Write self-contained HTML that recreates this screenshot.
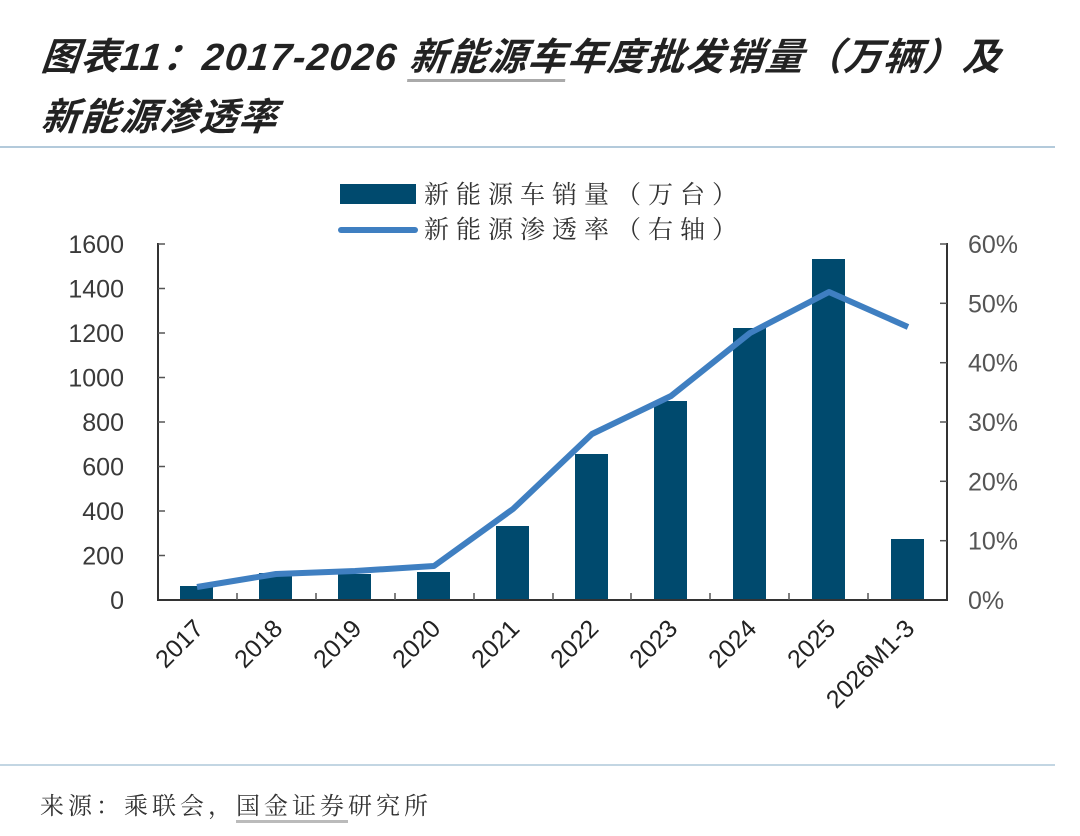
<!DOCTYPE html>
<html><head><meta charset="utf-8"><style>
body{margin:0;width:1080px;height:836px;background:#fff;overflow:hidden;position:relative;font-family:"Liberation Sans","Noto Sans CJK SC",sans-serif}
.t{position:absolute;left:42px;font-style:italic;font-weight:bold;font-size:38px;color:#222;letter-spacing:1.5px;font-family:"Liberation Sans","Noto Sans CJK SC",sans-serif;transform:skewX(-6deg);white-space:nowrap}
</style></head><body>
<div class="t" style="top:26px">图表11：2017-2026 <span style="border-bottom:3px solid #aaa">新能源车</span>年度批发销量（万辆）及</div>
<div class="t" style="top:86px">新能源渗透率</div>
<div style="position:absolute;left:0;top:146px;width:1055px;height:2px;background:#b3cadb"></div>
<div style="position:absolute;left:0;top:764px;width:1055px;height:2px;background:#c3d6e3"></div>
<div style="position:absolute;left:40px;top:786px;font-size:24px;letter-spacing:4px;color:#333;font-family:'Liberation Serif','Noto Serif CJK SC',serif;white-space:nowrap">来源：乘联会，<span style="border-bottom:3px solid #bbb">国金证券</span>研究所</div>
<svg width="1080" height="836" style="position:absolute;left:0;top:0">
<g font-family="Liberation Sans, Noto Sans CJK SC, sans-serif">
<rect x="340" y="184" width="76" height="20" fill="#004a6e"/>
<text x="424" y="203" font-size="25" fill="#333" font-family="Liberation Serif, Noto Serif CJK SC, serif" letter-spacing="7">新能源车销量（万台）</text>
<line x1="341" y1="230" x2="415" y2="230" stroke="#3f7fc1" stroke-width="6" stroke-linecap="round"/>
<text x="424" y="238" font-size="25" fill="#333" font-family="Liberation Serif, Noto Serif CJK SC, serif" letter-spacing="7">新能源渗透率（右轴）</text>
<g fill="#004a6e">
<rect x="180" y="586" width="33" height="14"/>
<rect x="259" y="573" width="33" height="27"/>
<rect x="338" y="574" width="33" height="26"/>
<rect x="417" y="572" width="33" height="28"/>
<rect x="496" y="526" width="33" height="74"/>
<rect x="575" y="454" width="33" height="146"/>
<rect x="654" y="401" width="33" height="199"/>
<rect x="733" y="328" width="33" height="272"/>
<rect x="812" y="259" width="33" height="341"/>
<rect x="891" y="539" width="33" height="61"/>
</g>
<polyline points="197,587 276,574 355,571 434,566 513,509 592,434 671,396 750,333 829,292 908,327" fill="none" stroke="#3f7fc1" stroke-width="6" stroke-linejoin="round"/>
<g stroke="#333" stroke-width="2" fill="none">
<line x1="158" y1="243" x2="158" y2="601"/>
<line x1="947" y1="243" x2="947" y2="601"/>
<line x1="157" y1="600" x2="948" y2="600"/>
</g>
<g stroke="#555" stroke-width="1.5">
<line x1="158" y1="244" x2="165" y2="244"/><line x1="158" y1="288.5" x2="165" y2="288.5"/><line x1="158" y1="333" x2="165" y2="333"/><line x1="158" y1="377.5" x2="165" y2="377.5"/><line x1="158" y1="422" x2="165" y2="422"/><line x1="158" y1="466.5" x2="165" y2="466.5"/><line x1="158" y1="511" x2="165" y2="511"/><line x1="158" y1="555.5" x2="165" y2="555.5"/>
<line x1="940" y1="244" x2="947" y2="244"/><line x1="940" y1="303.3" x2="947" y2="303.3"/><line x1="940" y1="362.7" x2="947" y2="362.7"/><line x1="940" y1="422" x2="947" y2="422"/><line x1="940" y1="481.3" x2="947" y2="481.3"/><line x1="940" y1="540.7" x2="947" y2="540.7"/>
<line x1="237" y1="600" x2="237" y2="593"/><line x1="316" y1="600" x2="316" y2="593"/><line x1="395" y1="600" x2="395" y2="593"/><line x1="474" y1="600" x2="474" y2="593"/><line x1="553" y1="600" x2="553" y2="593"/><line x1="631" y1="600" x2="631" y2="593"/><line x1="710" y1="600" x2="710" y2="593"/><line x1="789" y1="600" x2="789" y2="593"/><line x1="868" y1="600" x2="868" y2="593"/>
</g>
<g font-size="25" fill="#3a3a3a" text-anchor="end">
<text x="124" y="253">1600</text><text x="124" y="297.5">1400</text><text x="124" y="342">1200</text><text x="124" y="386.5">1000</text><text x="124" y="431">800</text><text x="124" y="475.5">600</text><text x="124" y="520">400</text><text x="124" y="564.5">200</text><text x="124" y="609">0</text>
</g>
<g font-size="25" fill="#555">
<text x="968" y="253">60%</text><text x="968" y="312.3">50%</text><text x="968" y="371.7">40%</text><text x="968" y="431">30%</text><text x="968" y="490.3">20%</text><text x="968" y="549.7">10%</text><text x="968" y="609">0%</text>
</g>
<g font-size="25" fill="#222" text-anchor="end">
<text transform="translate(205,630) rotate(-45)">2017</text>
<text transform="translate(284,630) rotate(-45)">2018</text>
<text transform="translate(363,630) rotate(-45)">2019</text>
<text transform="translate(442,630) rotate(-45)">2020</text>
<text transform="translate(521,630) rotate(-45)">2021</text>
<text transform="translate(600,630) rotate(-45)">2022</text>
<text transform="translate(679,630) rotate(-45)">2023</text>
<text transform="translate(758,630) rotate(-45)">2024</text>
<text transform="translate(837,630) rotate(-45)">2025</text>
<text transform="translate(916,630) rotate(-45)">2026M1-3</text>
</g>
</g>
</svg>
</body></html>
